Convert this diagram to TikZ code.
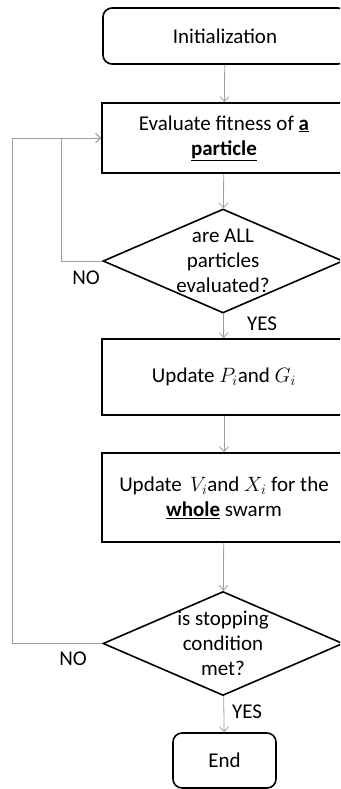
\documentclass[tikz,border=0pt]{standalone}
\usepackage{fontspec}
\setmainfont{Carlito}
\usepackage{tikz}
\usetikzlibrary{shapes.geometric,arrows.meta}

\begin{document}
\begin{tikzpicture}[x=1pt,y=-1pt,font=\fontsize{21}{25}\selectfont]
\tikzset{block/.style=
	{draw,line width=1.6pt,minimum width=244pt,align=center,inner sep=0pt},
	term/.style=
	{block,rounded corners=9pt},
	decision/.style=
	{draw,diamond,aspect=2.3,line width=1.6pt,minimum width=240pt,minimum height=104pt,inner ysep=0pt,inner xsep=-6pt,align=center},
	flow/.style=
	{draw,color=black!38,line width=0.8pt,-{Straight Barb[length=5pt,width=9pt]}},
	answer/.style=
	{inner sep=0pt}}
\clip (0,0) rectangle (340,789);
\node[term,minimum height=56pt] (init) at (225,36) {Initialization};
\node[block,minimum height=70pt] (eval) at (224,138) {Evaluate fitness of \underline{\textbf{a}}\\ \underline{\textbf{particle}}};
\node[decision] (allevl) at (223,261) {are ALL\\ particles\\ evaluated?};
\node[block,minimum height=76pt] (updpg) at (224,377) {Update $P_{i}$and $G_{i}$};
\node[block,minimum height=89pt] (updvx) at (224,497.5) {Update \,$V_{i}$and $X_{i}$ for the\\ \underline{\textbf{whole}} swarm};
\node[decision] (stop) at (223,643.5) {is stopping\\ condition\\ met?};
\node[term,minimum width=103pt,minimum height=55pt] (end) at (224.5,760.5) {End};
\node[answer] (no1) at (86,278) {NO};
\node[answer] (yes1) at (262,324) {YES};
\node[answer] (no2) at (73,659) {NO};
\node[answer] (yes2) at (247,712) {YES};
\draw[flow] (init) -- (eval);
\draw[flow] (eval) -- (allevl);
\draw[flow] (allevl) -- (updpg);
\draw[flow] (updpg) -- (updvx);
\draw[flow] (updvx) -- (stop);
\draw[flow] (stop) -- (end);
\draw[flow] (allevl.west) -- ++(-41,0) |- (eval.west);
\draw[flow] (stop.west) -- ++(-90,0) |- (eval.west);
\end{tikzpicture}
\end{document}
